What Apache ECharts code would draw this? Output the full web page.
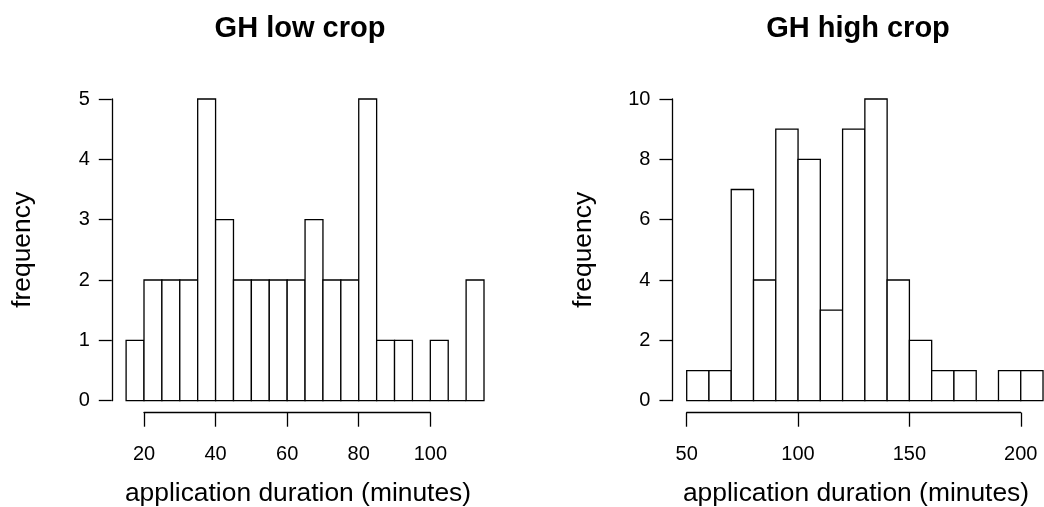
<!DOCTYPE html>
<html>
<head>
<meta charset="utf-8">
<script src="https://cdn.jsdelivr.net/npm/echarts@6/dist/echarts.min.js"></script>
<style>
html,body{margin:0;padding:0;background:#fff;}
#chart{width:1044px;height:507px;}
</style>
</head>
<body>
<div id="chart"></div>
<script>
// ---- data ----
var lowTitle = 'GH low crop';
var highTitle = 'GH high crop';
var xLabel = 'application duration (minutes)';
var yLabel = 'frequency';

var lowEdges = [15,20,25,30,35,40,45,50,55,60,65,70,75,80,85,90,95,100,105,110,115];
var lowCounts = [1,2,2,2,5,3,2,2,2,2,3,2,2,5,1,1,0,1,0,2];
var lowXTicks = [20,40,60,80,100];
var lowYTicks = [0,1,2,3,4,5];

var highEdges = [50,60,70,80,90,100,110,120,130,140,150,160,170,180,190,200,210];
var highCounts = [1,1,7,4,9,8,3,9,10,4,2,1,1,0,1,1];
var highXTicks = [50,100,150,200];
var highYTicks = [0,2,4,6,8,10];

function binData(edges, counts){
  var out = [];
  for (var i = 0; i < counts.length; i++) out.push([edges[i], edges[i+1], counts[i]]);
  return out;
}

var FONT = '"Liberation Sans", Arial, Helvetica, sans-serif';
var tickSize = 20, labSize = 26.4, titleSize = 29;
var W = 1044;

// ---- layout (pixels) ----
function panel(edges, xTicks, px) {
  var lo = edges[0], hi = edges[edges.length-1];
  var pad = (hi - lo) * 0.04;
  var xmin = lo - pad, xmax = hi + pad;
  var left = px.x0 - (xTicks[0] - xmin) * px.pxPerUnit;
  var width = (xmax - xmin) * px.pxPerUnit;
  if (left + width > W) { width = W - left; xmax = xmin + width / px.pxPerUnit; }
  return {xmin:xmin, xmax:xmax, left:left, width:width,
          tLeft: px.x0, tWidth: (xTicks[xTicks.length-1]-xTicks[0]) * px.pxPerUnit};
}

var P1 = panel(lowEdges, lowXTicks, {x0:144, pxPerUnit:3.579});
var P2 = panel(highEdges, highXTicks, {x0:686.7, pxPerUnit:2.227});

var yTop = 99, yZero = 400.7, xAxisY = 412.7;

function renderHist(params, api){
  var a = api.coord([api.value(0), 0]);
  var b = api.coord([api.value(1), api.value(2)]);
  return {
    type:'rect',
    shape:{x:a[0], y:b[1], width:b[0]-a[0], height:a[1]-b[1]},
    style:{fill:'#fff', stroke:'#000', lineWidth:1.3}
  };
}

function yAxisOpt(gridIndex, ticks){
  return {
    type:'value', gridIndex:gridIndex,
    min:ticks[0], max:ticks[ticks.length-1], interval:ticks[1]-ticks[0],
    axisLine:{show:true, lineStyle:{color:'#000', width:1.3}},
    axisTick:{show:true, inside:false, length:13, lineStyle:{color:'#000', width:1.3}},
    axisLabel:{color:'#000', fontSize:tickSize, fontFamily:FONT, margin:22},
    splitLine:{show:false},
    name:yLabel, nameLocation:'middle', nameRotate:90, nameGap:76,
    nameTextStyle:{color:'#000', fontSize:labSize, fontFamily:FONT}
  };
}

function xAxisVisible(gridIndex, ticks){
  return {
    type:'value', gridIndex:gridIndex, position:'bottom',
    min:ticks[0], max:ticks[ticks.length-1], interval:ticks[1]-ticks[0],
    axisLine:{show:true, onZero:false, lineStyle:{color:'#000', width:1.3}},
    axisTick:{show:true, inside:false, length:14, lineStyle:{color:'#000', width:1.3}},
    axisLabel:{show:true, color:'#000', fontSize:tickSize, fontFamily:FONT, margin:32},
    splitLine:{show:false}
  };
}

var option = {
  backgroundColor:'#fff',
  animation:false,
  grid:[
    {left:P1.left, width:P1.width, top:yTop, height:yZero-yTop},
    {left:P1.tLeft, width:P1.tWidth, top:xAxisY, height:0.01},
    {left:P2.left, width:P2.width, top:yTop, height:yZero-yTop},
    {left:P2.tLeft, width:P2.tWidth, top:xAxisY, height:0.01}
  ],
  xAxis:[
    {type:'value', gridIndex:0, min:P1.xmin, max:P1.xmax, show:false},
    xAxisVisible(1, lowXTicks),
    {type:'value', gridIndex:2, min:P2.xmin, max:P2.xmax, show:false},
    xAxisVisible(3, highXTicks)
  ],
  yAxis:[
    yAxisOpt(0, lowYTicks),
    {type:'value', gridIndex:1, show:false, min:0, max:1},
    yAxisOpt(2, highYTicks),
    {type:'value', gridIndex:3, show:false, min:0, max:1}
  ],
  series:[
    {type:'custom', xAxisIndex:0, yAxisIndex:0, data:binData(lowEdges, lowCounts), renderItem:renderHist, clip:false},
    {type:'custom', xAxisIndex:2, yAxisIndex:2, data:binData(highEdges, highCounts), renderItem:renderHist, clip:false}
  ],
  graphic:[
    {type:'text', x:300, y:29, style:{text:lowTitle, fill:'#000', font:'bold '+titleSize+'px '+FONT, textAlign:'center', textVerticalAlign:'middle'}},
    {type:'text', x:858, y:29, style:{text:highTitle, fill:'#000', font:'bold '+titleSize+'px '+FONT, textAlign:'center', textVerticalAlign:'middle'}},
    {type:'text', x:298, y:494, style:{text:xLabel, fill:'#000', font:labSize+'px '+FONT, textAlign:'center', textVerticalAlign:'middle'}},
    {type:'text', x:856, y:494, style:{text:xLabel, fill:'#000', font:labSize+'px '+FONT, textAlign:'center', textVerticalAlign:'middle'}}
  ]
};

var chart = echarts.init(document.getElementById('chart'), null, {renderer:'canvas'});
chart.setOption(option);
</script>
</body>
</html>
